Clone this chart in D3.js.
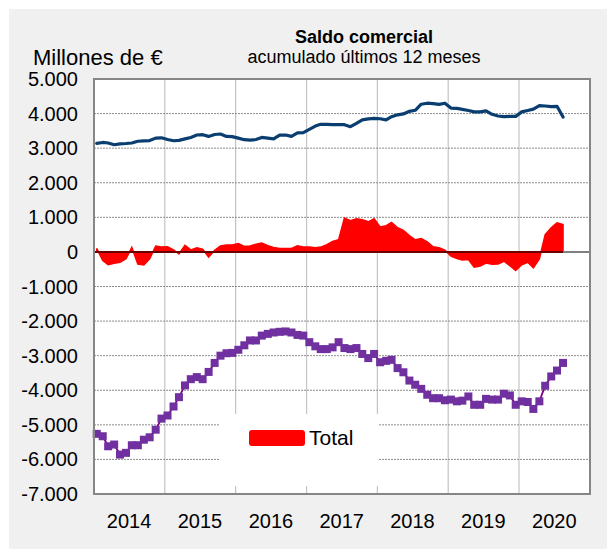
<!DOCTYPE html>
<html>
<head>
<meta charset="utf-8">
<script src="https://cdn.jsdelivr.net/npm/d3@7"></script>
<style>
  body { margin: 0; background: #fff; }
  text { font-family: "Liberation Sans", Arial, sans-serif; fill: #000; }
</style>
</head>
<body>
<svg id="chart" width="616" height="554"></svg>
<script>
// monthly categories, Jan 2014 .. Aug 2020
var months = d3.timeMonth.range(new Date(2014, 0, 1), new Date(2020, 8, 1));
var years = ["2014", "2015", "2016", "2017", "2018", "2019", "2020"];
var yTicks = [5000, 4000, 3000, 2000, 1000, 0, -1000, -2000, -3000, -4000, -5000, -6000, -7000];

// blue line
var seriesTop = [3140, 3165, 3150, 3100, 3125, 3135, 3150, 3200, 3210, 3220,
  3290, 3300, 3250, 3215, 3225, 3270, 3310, 3380, 3390, 3340,
  3395, 3410, 3340, 3335, 3290, 3245, 3230, 3250, 3310, 3290,
  3270, 3380, 3380, 3340, 3440, 3450, 3545, 3640, 3690, 3690,
  3680, 3680, 3680, 3620, 3720, 3820, 3845, 3860, 3850, 3820,
  3910, 3965, 3990, 4065, 4095, 4270, 4300, 4290, 4265, 4300,
  4160, 4150, 4120, 4090, 4050, 4050, 4080, 3980, 3930, 3910,
  3920, 3920, 4050, 4090, 4130, 4230, 4220, 4200, 4210, 3900];

// purple line with markers
var seriesBottom = [-5260, -5330, -5620, -5570, -5860, -5810, -5590, -5590, -5430, -5360,
  -5140, -4820, -4730, -4470, -4200, -3860, -3680, -3620, -3680, -3470,
  -3210, -3000, -2930, -2920, -2830, -2700, -2560, -2560, -2420, -2370,
  -2330, -2310, -2300, -2330, -2400, -2420, -2610, -2730, -2810, -2810,
  -2760, -2610, -2780, -2810, -2780, -2950, -3070, -2950, -3190, -3150,
  -3120, -3360, -3480, -3720, -3840, -3960, -4130, -4230, -4230, -4290,
  -4270, -4320, -4300, -4180, -4420, -4420, -4250, -4270, -4270, -4100,
  -4150, -4420, -4320, -4340, -4540, -4320, -3870, -3600, -3430, -3210];

// red area "Total"
var seriesTotal = [100, -250, -370, -330, -300, -200, 130, -350, -380, -200,
  170, 140, 150, 60, -60, 190, 60, 120, 80, -150,
  50, 170, 200, 200, 240, 160, 170, 220, 260, 180,
  130, 100, 100, 100, 180, 140, 140, 120, 140, 210,
  300, 350, 980, 900, 960, 930, 870, 960, 720, 760,
  850, 700, 620, 470, 350, 390, 290, 150, 120, 50,
  -120, -190, -230, -220, -440, -410, -320, -360, -350, -270,
  -400, -540, -370, -300, -460, -200, 500, 700, 840, 790];

var svg = d3.select("#chart");
var plot = { left: 94, right: 590, top: 79, bottom: 494 };

var locale = d3.formatLocale({ decimal: ",", thousands: ".", grouping: [3], currency: ["", "€"], minus: "-" });
var fmt = locale.format(",");

var x = d3.scaleTime()
  .domain([new Date(2014, 0, 1), new Date(2021, 0, 1)])
  .range([plot.left, plot.right]);
var y = d3.scaleLinear().domain([-7000, 5000]).range([plot.bottom, plot.top]);
function mx(i) { return x(d3.timeDay.offset(months[i], 14)); }

// background panel
svg.append("rect").attr("x", 9).attr("y", 9).attr("width", 598).attr("height", 540).attr("fill", "#f0f0f0");
svg.append("rect").attr("x", plot.left).attr("y", plot.top)
  .attr("width", plot.right - plot.left).attr("height", plot.bottom - plot.top).attr("fill", "#fff");

// grid
var yearStarts = d3.timeYear.range(new Date(2015, 0, 1), new Date(2021, 0, 1));
svg.append("g").selectAll("line").data(yearStarts).join("line")
  .attr("x1", function (d) { return x(d); }).attr("x2", function (d) { return x(d); })
  .attr("y1", plot.top).attr("y2", plot.bottom)
  .attr("stroke", "#c4c4c4").attr("stroke-width", 1.2);
svg.append("g").selectAll("line").data(yTicks.filter(function (d) { return d !== 5000 && d !== -7000 && d !== 0; })).join("line")
  .attr("x1", plot.left).attr("x2", plot.right)
  .attr("y1", function (d) { return y(d); }).attr("y2", function (d) { return y(d); })
  .attr("stroke", "#8c8c8c").attr("stroke-width", 1).attr("stroke-dasharray", "2,1");

// legend box (covers the grid)
svg.append("rect").attr("x", 219).attr("y", 414).attr("width", 159).attr("height", 72).attr("fill", "#fff");

// red area
var area = d3.area()
  .x(function (d, i) { return mx(i); })
  .y0(y(0))
  .y1(function (d) { return y(d); });
svg.append("path").datum(seriesTotal).attr("d", area)
  .attr("fill", "#ff0000").attr("stroke", "#ff0000").attr("stroke-width", 1.5);

// zero axis
svg.append("line").attr("x1", plot.left).attr("x2", plot.right).attr("y1", y(0)).attr("y2", y(0))
  .attr("stroke", "#808080").attr("stroke-width", 2);
svg.append("line").attr("x1", mx(0) - 2).attr("x2", mx(seriesTotal.length - 1)).attr("y1", y(0)).attr("y2", y(0))
  .attr("stroke", "#6a0000").attr("stroke-width", 2);

// blue line
var line = d3.line()
  .x(function (d, i) { return mx(i); })
  .y(function (d) { return y(d); });
svg.append("path").datum(seriesTop).attr("d", line)
  .attr("fill", "none").attr("stroke", "#0b3e70").attr("stroke-width", 3.2)
  .attr("stroke-linejoin", "round").attr("stroke-linecap", "round");

// purple line + markers
svg.append("path").datum(seriesBottom).attr("d", line)
  .attr("fill", "none").attr("stroke", "#7f007f").attr("stroke-width", 1.8);
svg.append("g").selectAll("rect").data(seriesBottom).join("rect")
  .attr("x", function (d, i) { return mx(i) - 4; })
  .attr("y", function (d) { return y(d) - 4; })
  .attr("width", 8).attr("height", 8)
  .attr("fill", "#7030a0");

// plot border
svg.append("rect").attr("x", plot.left).attr("y", plot.top)
  .attr("width", plot.right - plot.left).attr("height", plot.bottom - plot.top)
  .attr("fill", "none").attr("stroke", "#868686").attr("stroke-width", 2);

// y tick labels
svg.append("g").selectAll("text").data(yTicks).join("text")
  .attr("x", 78).attr("y", function (d) { return y(d) + 7; })
  .attr("text-anchor", "end").attr("font-size", 20)
  .text(function (d) { return fmt(d); });

// year labels
svg.append("g").selectAll("text").data(years).join("text")
  .attr("x", function (d) { return x(new Date(+d, 6, 1)); })
  .attr("y", 528)
  .attr("text-anchor", "middle").attr("font-size", 20)
  .text(function (d) { return d; });

// titles
svg.append("text").attr("x", 364).attr("y", 43).attr("text-anchor", "middle")
  .attr("font-size", 18).attr("font-weight", "bold").text("Saldo comercial");
svg.append("text").attr("x", 364).attr("y", 63).attr("text-anchor", "middle")
  .attr("font-size", 18).text("acumulado últimos 12 meses");
svg.append("text").attr("x", 33).attr("y", 65).attr("font-size", 22).text("Millones de €");

// legend
svg.append("rect").attr("x", 249).attr("y", 430).attr("width", 56).attr("height", 16).attr("rx", 3)
  .attr("fill", "#ff0000");
svg.append("text").attr("x", 309).attr("y", 445).attr("font-size", 21).text("Total");
</script>
</body>
</html>
